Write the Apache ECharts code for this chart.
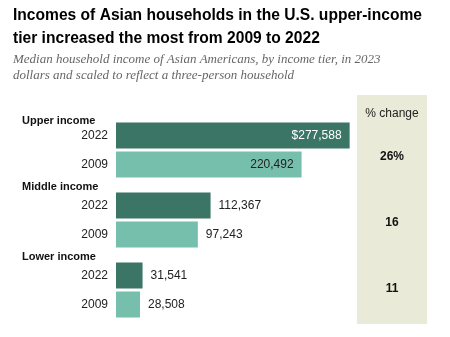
<!DOCTYPE html>
<html>
<head>
<meta charset="utf-8">
<script src="https://cdn.jsdelivr.net/npm/echarts@6/dist/echarts.min.js"></script>
<style>
html,body{margin:0;padding:0;background:#fff;}
#chart{width:450px;height:337px;}
</style>
</head>
<body>
<div id="chart"></div>
<script>
const tiers = ['Upper income', 'Middle income', 'Lower income'];
const years = ['2022', '2009'];
const income2022 = [277588, 112367, 31541];
const income2009 = [220492, 97243, 28508];
const pctChange = ['26%', '16', '11'];
const xMax = 300000;

const darkColor = '#3a7565';
const lightColor = '#77bfad';
const FONT = '"Liberation Sans", Arial, sans-serif';

const gridTops = [121, 191, 261];
const grids = [], xAxes = [], yAxes = [], series = [];
const fmt = v => v.toLocaleString('en-US');

tiers.forEach((t, i) => {
  grids.push({ left: 116, top: gridTops[i], width: 252.5, height: 58 });
  xAxes.push({ type: 'value', gridIndex: i, min: 0, max: xMax, show: false });
  yAxes.push({
    type: 'category', gridIndex: i, data: years, inverse: true,
    axisLine: { show: false }, axisTick: { show: false },
    axisLabel: { margin: 8, fontFamily: FONT, fontSize: 12, color: '#222' }
  });
  const inside = i === 0;
  series.push({
    type: 'bar', xAxisIndex: i, yAxisIndex: i, barWidth: 26, silent: true,
    data: [
      { value: income2022[i], itemStyle: { color: darkColor },
        label: { color: inside ? '#fff' : '#222' } },
      { value: income2009[i], itemStyle: { color: lightColor },
        label: { color: '#222' } }
    ],
    label: {
      show: true,
      position: inside ? 'insideRight' : 'right',
      distance: 8,
      fontFamily: FONT, fontSize: 12,
      formatter: p => (i === 0 && p.dataIndex === 0 ? '$' : '') + fmt(p.value)
    }
  });
});

const graphic = [
  { type: 'rect', shape: { x: 357, y: 95, width: 70, height: 229 }, style: { fill: '#eaead8' }, z: -1 },
  { type: 'text', x: 392, y: 114, style: { text: '% change', fontFamily: FONT, fontSize: 12, fill: '#222', textAlign: 'center', textVerticalAlign: 'middle' } }
];
const pctY = [157, 223, 289];
pctChange.forEach((p, i) => {
  graphic.push({ type: 'text', x: 392, y: pctY[i], style: { text: p, fontFamily: FONT, fontSize: 12, fontWeight: 'bold', fill: '#111', textAlign: 'center', textVerticalAlign: 'middle' } });
});
const groupLabelY = [121, 187, 257];
tiers.forEach((t, i) => {
  graphic.push({ type: 'text', x: 22, y: groupLabelY[i], style: { text: t, fontFamily: FONT, fontSize: 11, fontWeight: 'bold', fill: '#111', textVerticalAlign: 'middle' } });
});

const chart = echarts.init(document.getElementById('chart'), null, { renderer: 'canvas' });
chart.setOption({
  animation: false,
  title: [
    { text: 'Incomes of Asian households in the U.S. upper-income\ntier increased the most from 2009 to 2022',
      left: 8, top: -1,
      textStyle: { fontFamily: FONT, fontSize: 15.6, fontWeight: 'bold', color: '#000', lineHeight: 23 } },
    { text: 'Median household income of Asian Americans, by income tier, in 2023\ndollars and scaled to reflect a three-person household',
      left: 8, top: 47,
      textStyle: { fontFamily: '"Liberation Serif", Georgia, serif', fontSize: 13, fontStyle: 'italic', fontWeight: 'normal', color: '#666', lineHeight: 16 } }
  ],
  grid: grids, xAxis: xAxes, yAxis: yAxes, series: series, graphic: graphic
});
</script>
</body>
</html>
